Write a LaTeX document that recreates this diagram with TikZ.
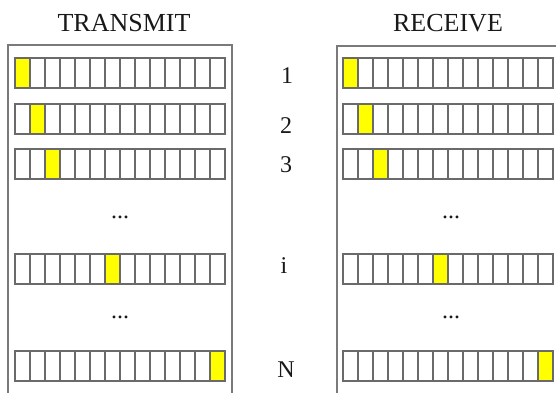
\documentclass[tikz,border=0pt]{standalone}
\usepackage{fontspec}
\setmainfont{Liberation Serif}
\definecolor{cellgray}{HTML}{6A6A6A}
\definecolor{panelgray}{HTML}{7A7A7A}
\definecolor{hl}{HTML}{FFFF00}
\begin{document}
\begin{tikzpicture}[x=1pt,y=-1pt,
  cellbox/.style={draw=cellgray, line width=1.2pt},
  panel/.style={draw=panelgray, line width=1.4pt},
  lbl/.style={font=\fontsize{24}{28}\selectfont, anchor=base, inner sep=0pt, text=black!90},
  head/.style={font=\fontsize{26}{30}\selectfont, anchor=base, inner sep=0pt, text=black!90}]
\useasboundingbox (0,0) rectangle (556,392);
\clip (0,0) rectangle (556,392);
\fill[white] (0,0) rectangle (556,392);
\draw[panel] (8,45) rectangle (232,400);
\draw[panel] (337,46) rectangle (566,400);
\node[head] (tx) at (124,31) {TRANSMIT};
\node[head] (rx) at (448,31) {RECEIVE};
\foreach \y/\k in {58/0,104/1,149/2,254/6,351/13} {
  \foreach \xo in {15,343} {
    \fill[hl] (\xo+\k*15,\y) rectangle ++(15,30);
    \foreach \c in {0,...,13} \draw[cellbox] (\xo+\c*15,\y) rectangle ++(15,30);
  }
}
\node[lbl] (n1) at (287,83) {1};
\node[lbl] (n2) at (286,133) {2};
\node[lbl] (n3) at (286,172) {3};
\node[lbl] (ni) at (284,273) {i};
\node[lbl] (nN) at (286,377) {N};
\node[lbl] (dl1) at (120,218) {...};
\node[lbl] (dl2) at (120,318) {...};
\node[lbl] (dr1) at (451,218) {...};
\node[lbl] (dr2) at (451,318) {...};
\end{tikzpicture}
\end{document}
